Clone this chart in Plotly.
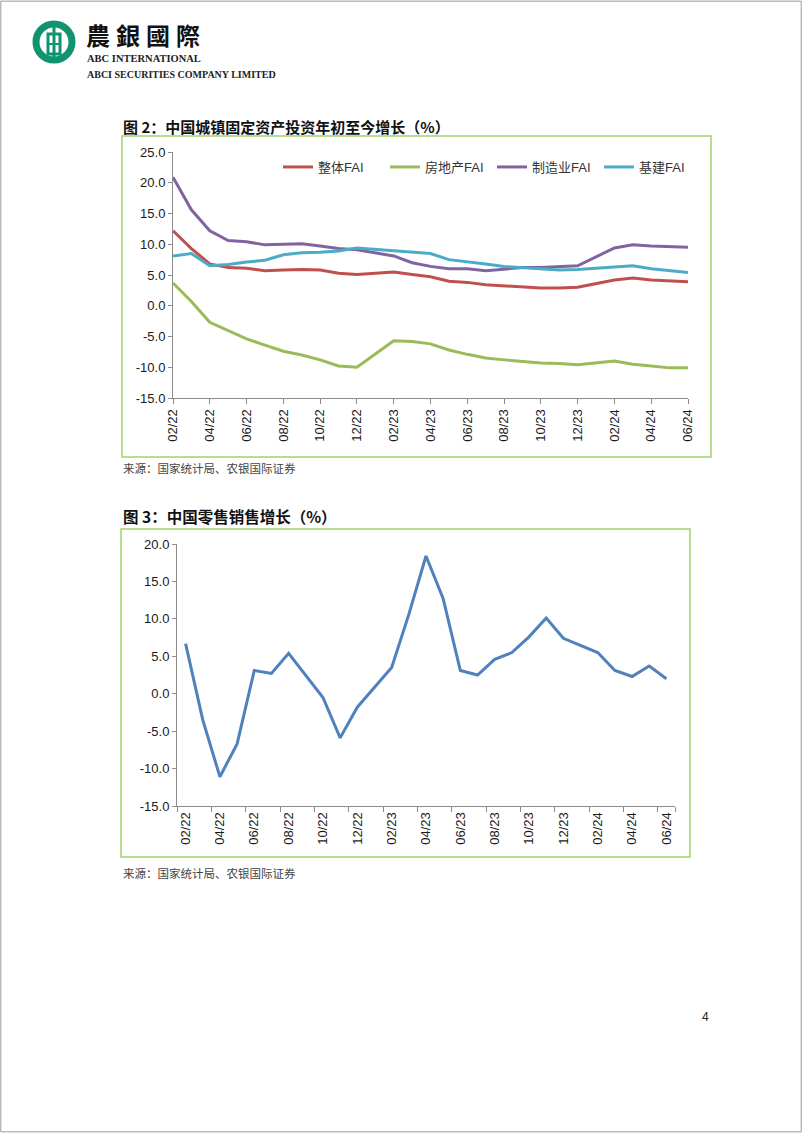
import plotly.graph_objects as go

W, H = 802, 1133

# ---------------- data ----------------
months = ["02/22", "03/22", "04/22", "05/22", "06/22", "07/22", "08/22", "09/22", "10/22", "11/22", "12/22",
          "01/23", "02/23", "03/23", "04/23", "05/23", "06/23", "07/23", "08/23", "09/23", "10/23", "11/23", "12/23",
          "01/24", "02/24", "03/24", "04/24", "05/24", "06/24"]

fai_total = [12.2, 9.3, 6.8, 6.2, 6.1, 5.7, 5.8, 5.9, 5.8, 5.3, 5.1,
             None, 5.5, 5.1, 4.7, 4.0, 3.8, 3.4, 3.2, 3.1, 2.9, 2.9, 3.0,
             None, 4.2, 4.5, 4.2, 4.0, 3.9]
fai_property = [3.7, 0.7, -2.7, -4.0, -5.4, -6.4, -7.4, -8.0, -8.8, -9.8, -10.0,
                None, -5.7, -5.8, -6.2, -7.2, -7.9, -8.5, -8.8, -9.1, -9.3, -9.4, -9.6,
                None, -9.0, -9.5, -9.8, -10.1, -10.1]
fai_manuf = [20.9, 15.6, 12.2, 10.6, 10.4, 9.9, 10.0, 10.1, 9.7, 9.3, 9.1,
             None, 8.1, 7.0, 6.4, 6.0, 6.0, 5.7, 5.9, 6.2, 6.2, 6.3, 6.5,
             None, 9.4, 9.9, 9.7, 9.6, 9.5]
fai_infra = [8.1, 8.5, 6.5, 6.7, 7.1, 7.4, 8.3, 8.6, 8.7, 8.9, 9.4,
             None, 9.0, 8.8, 8.5, 7.5, 7.2, 6.8, 6.4, 6.2, 5.9, 5.8, 5.9,
             None, 6.3, 6.5, 6.0, 5.7, 5.4]

retail = [6.7, -3.5, -11.1, -6.7, 3.1, 2.7, 5.4, 2.5, -0.5, -5.9, -1.8,
          None, 3.5, 10.6, 18.4, 12.7, 3.1, 2.5, 4.6, 5.5, 7.6, 10.1, 7.4,
          None, 5.5, 3.1, 2.3, 3.7, 2.0]

fai_names = ["整体FAI", "房地产FAI", "制造业FAI", "基建FAI"]
fai_colors = ["#c0504d", "#9bbb59", "#8064a2", "#4bacc6"]
retail_color = "#4f81bd"

y1_ticks = [-15, -10, -5, 0, 5, 10, 15, 20, 25]
y2_ticks = [-15, -10, -5, 0, 5, 10, 15, 20]

title1 = "图 2：中国城镇固定资产投资年初至今增长（%）"
title2 = "图 3：中国零售销售增长（%）"
source = "来源：国家统计局、农银国际证券"

# ---------------- helpers ----------------
def fx(px):
    return px / W

def fy(py):
    return 1 - py / H

def fmt(v):
    return ("-" if v < 0 else "") + "%.1f" % abs(v)

idx = list(range(len(months)))
label_idx = idx[::2]
label_txt = months[::2]

fig = go.Figure()

for name, col, vals in zip(fai_names, fai_colors, [fai_total, fai_property, fai_manuf, fai_infra]):
    fig.add_trace(go.Scatter(x=idx, y=vals, mode="lines", name=name, connectgaps=True,
                             line=dict(color=col, width=3), xaxis="x", yaxis="y"))

fig.add_trace(go.Scatter(x=idx, y=retail, mode="lines", name="零售", connectgaps=True, showlegend=False,
                         line=dict(color=retail_color, width=3), xaxis="x2", yaxis="y2"))

axis_col = "#8c8c8c"
tick_font = dict(family="Liberation Sans, Arial, sans-serif", size=13, color="#1a1a1a")

common = dict(showline=True, linecolor=axis_col, linewidth=1, showgrid=False, zeroline=False,
              tickfont=tick_font, automargin=False)

fig.update_layout(
    width=W, height=H,
    margin=dict(l=0, r=0, t=0, b=0, autoexpand=False),
    paper_bgcolor="white", plot_bgcolor="white",
    showlegend=True,
    legend=dict(orientation="h", x=fx(278), y=fy(167), xanchor="left", yanchor="middle",
                font=dict(family="Liberation Sans, Noto Sans CJK SC, sans-serif", size=13, color="#333333"),
                itemwidth=30, entrywidth=62, entrywidthmode="pixels",
                bgcolor="rgba(0,0,0,0)", tracegroupgap=0),
    xaxis=dict(domain=[fx(173), fx(688)], anchor="y", range=[0, 28],
               tickvals=label_idx, ticktext=label_txt, tickangle=-90,
               ticks="outside", ticklen=5, tickcolor=axis_col, **common),
    yaxis=dict(domain=[fy(398), fy(152)], anchor="x", range=[-15, 25],
               tickvals=y1_ticks, ticktext=[fmt(v) for v in y1_ticks],
               ticks="outside", ticklen=4, tickcolor=axis_col, **common),
    xaxis2=dict(domain=[fx(177), fx(675)], anchor="y2", range=[-0.5, 28.5],
                tickvals=label_idx, ticktext=label_txt, tickangle=-90, ticks="",
                minor=dict(tickvals=[v - 0.5 for v in label_idx] + [28.5], ticks="outside",
                           ticklen=5, tickcolor=axis_col),
                **common),
    yaxis2=dict(domain=[fy(806), fy(544)], anchor="x2", range=[-15, 20],
                tickvals=y2_ticks, ticktext=[fmt(v) for v in y2_ticks],
                ticks="outside", ticklen=4, tickcolor=axis_col, **common),
)

shapes = []
# page border
shapes.append(dict(type="rect", xref="paper", yref="paper", x0=0.001, x1=0.999, y0=0.001, y1=0.999,
                   line=dict(color="#9a9a9a", width=1)))
# chart frames
frame_col = "#9dd36e"
shapes.append(dict(type="rect", xref="paper", yref="paper", x0=fx(122), x1=fx(711), y0=fy(457), y1=fy(136),
                   line=dict(color=frame_col, width=1.5)))
shapes.append(dict(type="rect", xref="paper", yref="paper", x0=fx(121), x1=fx(690), y0=fy(857), y1=fy(529),
                   line=dict(color=frame_col, width=1.5)))
# logo
logo_col = "#11936f"
shapes.append(dict(type="circle", xref="paper", yref="paper", x0=fx(36), x1=fx(72), y0=fy(60), y1=fy(24),
                   line=dict(color=logo_col, width=7)))
shapes.append(dict(type="rect", xref="paper", yref="paper", x0=fx(48), x1=fx(60), y0=fy(54), y1=fy(34),
                   line=dict(color=logo_col, width=3)))
shapes.append(dict(type="line", xref="paper", yref="paper", x0=fx(54), x1=fx(54), y0=fy(62), y1=fy(21),
                   line=dict(color=logo_col, width=3)))
shapes.append(dict(type="line", xref="paper", yref="paper", x0=fx(48), x1=fx(60), y0=fy(44), y1=fy(44),
                   line=dict(color=logo_col, width=2)))
fig.update_layout(shapes=shapes)

ann = []
ann.append(dict(text="<b>農\u2005銀\u2005國\u2005際</b>", x=fx(84), y=fy(35), xref="paper", yref="paper",
                xanchor="left", yanchor="middle", showarrow=False,
                font=dict(family="Noto Sans CJK TC, sans-serif", size=24, color="#111111")))
ann.append(dict(text="<b>ABC INTERNATIONAL</b>", x=fx(85), y=fy(58.5), xref="paper", yref="paper",
                xanchor="left", yanchor="middle", showarrow=False,
                font=dict(family="Liberation Serif, DejaVu Serif, serif", size=10.5, color="#222222")))
ann.append(dict(text="<b>ABCI SECURITIES COMPANY LIMITED</b>", x=fx(85), y=fy(75), xref="paper", yref="paper",
                xanchor="left", yanchor="middle", showarrow=False,
                font=dict(family="Liberation Serif, DejaVu Serif, serif", size=10, color="#222222")))
ann.append(dict(text="<b>" + title1 + "</b>", x=fx(121), y=fy(126), xref="paper", yref="paper",
                xanchor="left", yanchor="middle", showarrow=False,
                font=dict(family="Noto Sans CJK SC, sans-serif", size=15, color="#111111")))
ann.append(dict(text="<b>" + title2 + "</b>", x=fx(121), y=fy(516), xref="paper", yref="paper",
                xanchor="left", yanchor="middle", showarrow=False,
                font=dict(family="Noto Sans CJK SC, sans-serif", size=15.5, color="#111111")))
for yy in (468, 873):
    ann.append(dict(text=source, x=fx(121), y=fy(yy), xref="paper", yref="paper",
                    xanchor="left", yanchor="middle", showarrow=False,
                    font=dict(family="Noto Sans CJK SC, sans-serif", size=11.5, color="#444444")))
ann.append(dict(text="4", x=fx(705), y=fy(1017), xref="paper", yref="paper",
                xanchor="center", yanchor="middle", showarrow=False,
                font=dict(family="Liberation Sans, Arial, sans-serif", size=12, color="#222222")))
fig.update_layout(annotations=ann)

fig.write_html("out.html", config={"displayModeBar": False},
               post_script="document.body.style.margin='0px';document.body.style.overflow='hidden';")
